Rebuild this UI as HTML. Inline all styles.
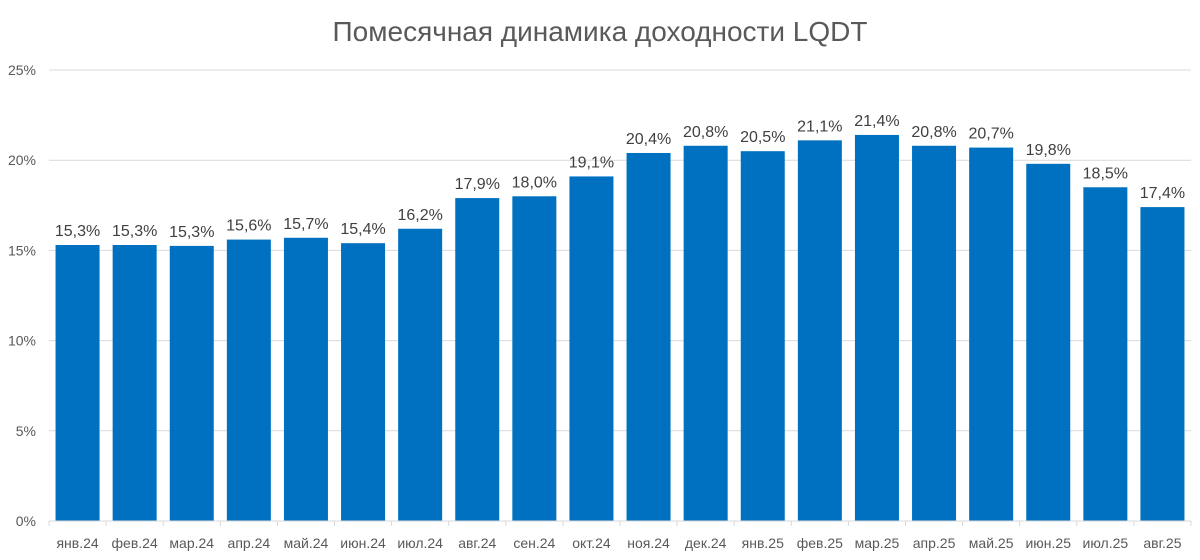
<!DOCTYPE html>
<html><head><meta charset="utf-8"><style>
body{margin:0;background:#fff;}
svg{display:block;font-family:"Liberation Sans",sans-serif;}
</style></head><body>
<svg id="chart" width="1200" height="560">
<text x="600" y="41" text-anchor="middle" font-size="28" fill="#595959">Помесячная динамика доходности LQDT</text>
<g id="grid"></g><g id="bars"></g><g id="xaxis"></g>
</svg>
<script>
const categories=["янв.24","фев.24","мар.24","апр.24","май.24","июн.24","июл.24","авг.24","сен.24","окт.24","ноя.24","дек.24","янв.25","фев.25","мар.25","апр.25","май.25","июн.25","июл.25","авг.25"];
const values=[15.3,15.3,15.25,15.6,15.7,15.4,16.2,17.9,18.0,19.1,20.4,20.8,20.5,21.1,21.4,20.8,20.7,19.8,18.5,17.4];
const valueLabels=["15,3%","15,3%","15,3%","15,6%","15,7%","15,4%","16,2%","17,9%","18,0%","19,1%","20,4%","20,8%","20,5%","21,1%","21,4%","20,8%","20,7%","19,8%","18,5%","17,4%"];
const yTicks=[0,5,10,15,20,25];
const NS="http://www.w3.org/2000/svg";
const left=49,right=1191,y0=521,yTop=70,ymax=25;
const band=(right-left)/categories.length;
const yScale=v=>y0-(v/ymax)*(y0-yTop);
const xScale=i=>left+band*i;
function mk(t,a,p){const e=document.createElementNS(NS,t);for(const k in a)e.setAttribute(k,a[k]);p.appendChild(e);return e;}
const grid=document.getElementById('grid'),bars=document.getElementById('bars'),xa=document.getElementById('xaxis');
yTicks.forEach(t=>{
 const y=yScale(t);
 if(t>0){const l=mk('line',{x1:left,x2:right,y1:y,y2:y,stroke:'#d9d9d9','stroke-width':1},grid);
 
 }
 const tx=mk('text',{x:36,y:y+5,'text-anchor':'end','font-size':14,fill:'#595959'},grid);
 tx.textContent=t+'%';
 
 
});
const ax=mk('line',{x1:left,x2:right,y1:y0,y2:y0,stroke:'#d9d9d9','stroke-width':1},xa);


for(let i=0;i<=categories.length;i++){
 const tk=mk('line',{x1:xScale(i),x2:xScale(i),y1:y0,y2:y0+5,stroke:'#d9d9d9'},xa);
 
 
}
const bw=44;
categories.forEach((c,i)=>{
 const cx=xScale(i)+band/2,y=yScale(values[i]);
 const r=mk('rect',{x:cx-bw/2,y:y,width:bw,height:y0-y,fill:'#0070C0'},bars);
 
 
 const lb=mk('text',{x:cx,y:y-9,'text-anchor':'middle','font-size':16,fill:'#404040'},bars);
 lb.textContent=valueLabels[i];
 
 
 const xl=mk('text',{x:cx,y:548,'text-anchor':'middle','font-size':14,fill:'#595959'},xa);
 xl.textContent=c;
 
 
});
</script>
</body></html>
